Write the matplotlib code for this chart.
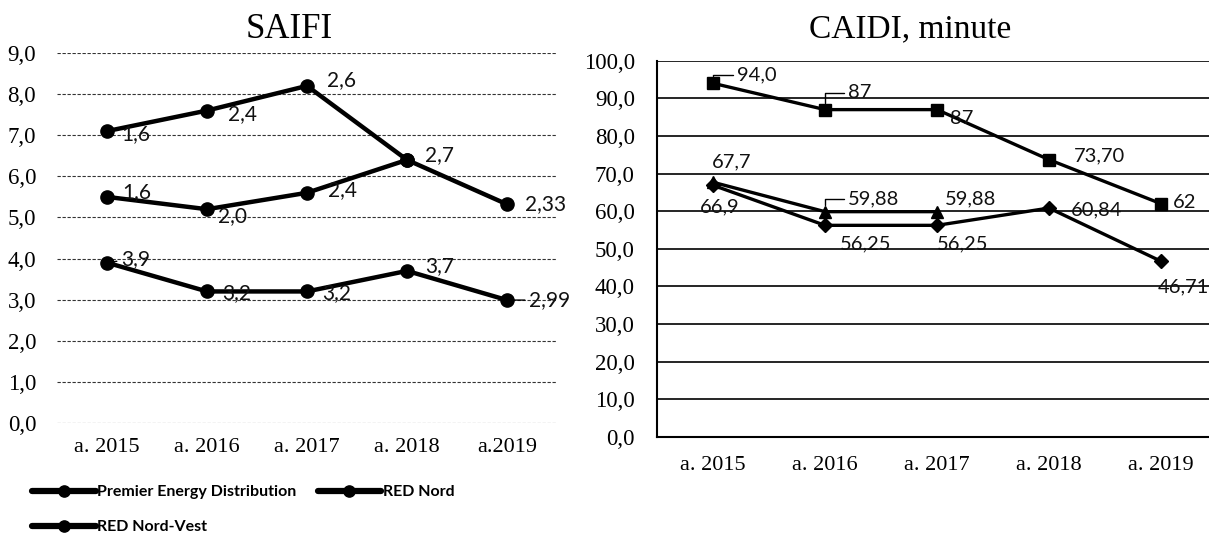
import numpy as np
import matplotlib
matplotlib.use("Agg")
import matplotlib.pyplot as plt

# date
ani_saifi = ['a. 2015', 'a. 2016', 'a. 2017', 'a. 2018', 'a.2019']
ani_caidi = ['a. 2015', 'a. 2016', 'a. 2017', 'a. 2018', 'a. 2019']

saifi_premier = [3.9, 3.2, 3.2, 3.7, 2.99]
saifi_red_nord = [1.6, 2.0, 2.4, 2.7, np.nan]
saifi_red_nord_vest = [1.6, 2.4, 2.6, np.nan, 2.33]

caidi_patrat = [94.0, 87, 87, 73.70, 62]
caidi_patrat_et = ['94,0', '87', '87', '73,70', '62']
caidi_triunghi = [67.7, 59.88, 59.88, np.nan, np.nan]
caidi_triunghi_et = ['67,7', '59,88', '59,88', '', '']
caidi_romb = [66.9, 56.25, 56.25, 60.84, 46.71]
caidi_romb_et = ['66,9', '56,25', '56,25', '60,84', '46,71']

saifi_ticks = [0, 1, 2, 3, 4, 5, 6, 7, 8, 9]
caidi_ticks = [0, 10, 20, 30, 40, 50, 60, 70, 80, 90, 100]

serif = 'Liberation Serif'
sans = 'Lato'
px = 0.72  # pixeli -> puncte


def eticheta(v):
    if np.isnan(v):
        return ''
    s = '{:.1f}'.format(v) if round(v, 1) == v else '{:.2f}'.format(v)
    return s.replace('.', ',')


def pune_eticheta(ax, x, y, text, dx, dy, fs, ha='left', leader=None):
    if text == '':
        return
    kw = {}
    if leader:
        kw['arrowprops'] = dict(arrowstyle='-', color='black', lw=1.0,
                                connectionstyle=leader, shrinkA=1, shrinkB=5)
    ax.annotate(text, (x, y), xytext=(dx * px, dy * px), textcoords='offset points',
                ha=ha, va='center', fontsize=fs, family=sans, color='#111111', **kw)


fig = plt.figure(figsize=(12.09, 5.38), dpi=100)

# ---------------- SAIFI ----------------
ax1 = fig.add_axes([57 / 1209, 1 - 423 / 538, 500 / 1209, 370 / 538])
x = np.arange(len(ani_saifi))
jos = np.array(saifi_premier)
mij = jos + np.array(saifi_red_nord)
sus = jos + np.nan_to_num(saifi_red_nord) + np.nan_to_num(saifi_red_nord_vest)

st = dict(color='black', lw=3.2, marker='o', ms=9.5, solid_capstyle='round')
l1, = ax1.plot(x, jos, label='Premier Energy Distribution', **st)
l2, = ax1.plot(x, mij, label='RED Nord', **st)
l3, = ax1.plot(x, sus, label='RED Nord-Vest', **st)

drept = 'arc3,rad=0'
off_jos = [(14, 4, drept), (15, -2, None), (15, -2, None), (18, 5, None), (22, 0, drept)]
off_mij = [(15, 5, None), (11, -7, None), (21, 3, None), (18, 5, None), (0, 0, None)]
off_sus = [(14, -3, None), (21, -4, None), (20, 6, None), (0, 0, None), (18, 0, None)]
for i in x:
    pune_eticheta(ax1, i, jos[i], eticheta(saifi_premier[i]), off_jos[i][0], off_jos[i][1], 15,
                  leader=off_jos[i][2])
    pune_eticheta(ax1, i, mij[i], eticheta(saifi_red_nord[i]), off_mij[i][0], off_mij[i][1], 15)
    pune_eticheta(ax1, i, sus[i], eticheta(saifi_red_nord_vest[i]), off_sus[i][0], off_sus[i][1], 15)

ax1.set_xlim(-0.5, 4.5)
ax1.set_ylim(0, 9)
ax1.set_yticks(saifi_ticks)
ax1.set_yticklabels(['{},0'.format(t) for t in saifi_ticks], family=serif, fontsize=16.5)
ax1.set_xticks(x)
ax1.set_xticklabels(ani_saifi, family=serif, fontsize=16)
ax1.tick_params(length=0)
ax1.tick_params(axis='y', pad=15)
ax1.tick_params(axis='x', pad=11)
ax1.grid(axis='y', color='#333333', lw=0.8, linestyle=(0, (3, 1.5)))
ax1.set_axisbelow(True)
for s in ax1.spines.values():
    s.set_visible(False)

fig.text(289 / 1209, 1 - 38 / 538, 'SAIFI', family=serif, fontsize=25,
         ha='center', va='baseline')

# ---------------- CAIDI ----------------
ax2 = fig.add_axes([657 / 1209, 1 - 437 / 538, 560 / 1209, 376.3 / 538])
x2 = np.arange(len(ani_caidi))
st2 = dict(color='black', lw=2.4, ms=9)
ax2.plot(x2, caidi_patrat, marker='s', **st2)
ax2.plot(x2, caidi_triunghi, marker='^', **st2)
ax2.plot(x2, caidi_romb, marker='D', **dict(st2, ms=7.5))

ang = 'angle,angleA=0,angleB=90,rad=0'
off_p = [(24, 8, ang), (23, 17, ang), (13, -9, None), (25, 4, None), (12, 1, None)]
off_t = [(-1, 20, None), (23, 13, ang), (8, 13, None), (0, 0, None), (0, 0, None)]
off_r = [(-13, -22, None), (15, -19, None), (0, -19, None), (22, -2, None), (-3, -26, None)]
for i in x2:
    dx, dy, ld = off_p[i]
    pune_eticheta(ax2, i, caidi_patrat[i], caidi_patrat_et[i], dx, dy, 14.5, leader=ld)
    dx, dy, ld = off_t[i]
    pune_eticheta(ax2, i, caidi_triunghi[i], caidi_triunghi_et[i], dx, dy, 14.5, leader=ld)
    dx, dy, ld = off_r[i]
    pune_eticheta(ax2, i, caidi_romb[i], caidi_romb_et[i], dx, dy, 14.5, leader=ld)

ax2.set_xlim(-0.5, 4.5)
ax2.set_ylim(0, 100)
ax2.set_yticks(caidi_ticks)
ax2.set_yticklabels(['{},0'.format(t) for t in caidi_ticks], family=serif, fontsize=16.5)
ax2.set_xticks(x2)
ax2.set_xticklabels(ani_caidi, family=serif, fontsize=16)
ax2.tick_params(length=0)
ax2.tick_params(axis='y', pad=16)
ax2.tick_params(axis='x', pad=14)
ax2.grid(axis='y', color='black', lw=1.2)
ax2.set_axisbelow(True)
ax2.spines['top'].set_visible(False)
ax2.spines['right'].set_visible(False)
ax2.spines['left'].set_linewidth(1.5)
ax2.spines['bottom'].set_linewidth(1.5)

fig.text(910 / 1209, 1 - 37 / 538, 'CAIDI, minute', family=serif, fontsize=24,
         ha='center', va='baseline')

# legenda: ordinea pe rânduri ca în original
leg = fig.legend([l1, l3, l2], [l1.get_label(), l3.get_label(), l2.get_label()],
                 loc='upper left', bbox_to_anchor=(32 / 1209, 1 - 485 / 538), ncol=2,
                 frameon=False, prop=dict(family=sans, size=11.5, weight='bold'),
                 handlelength=4.0, handletextpad=0.1, columnspacing=1.3,
                 labelspacing=1.3, borderpad=0, borderaxespad=0,
                 markerscale=0.85)
for h in leg.legend_handles:
    h.set_linewidth(4.5)

fig.savefig('out.png', dpi=100)
